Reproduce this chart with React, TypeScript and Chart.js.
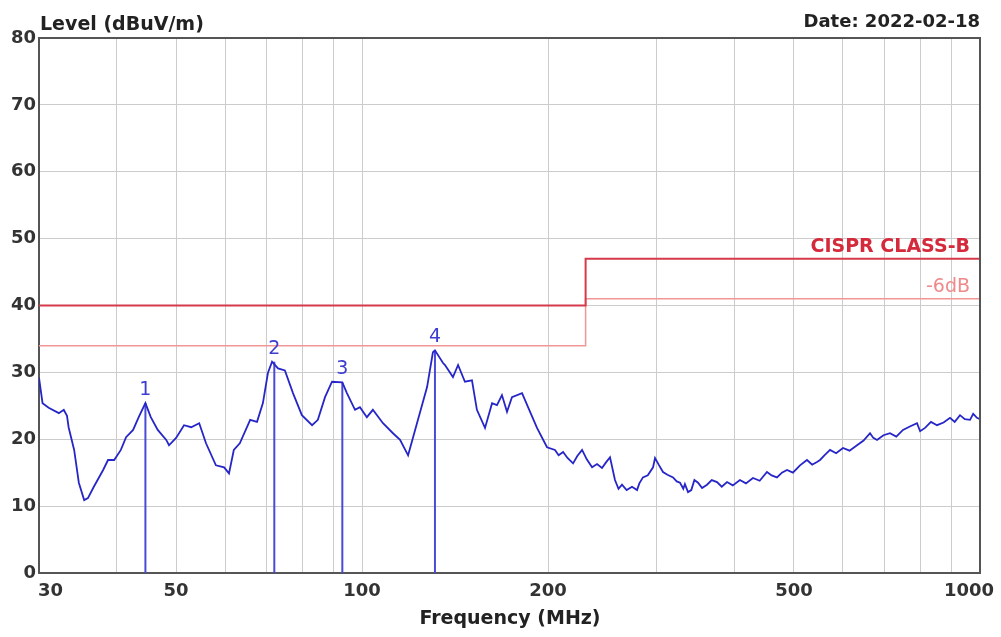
import React, { useEffect, useRef } from "react";
import { Chart, registerables } from "chart.js";

Chart.register(...registerables);

const FONT = "'DejaVu Sans', 'Liberation Sans', sans-serif";

// Measured trace (frequency in MHz, level in dBuV/m)
const freqMHz = [
  30.0, 30.4, 31.1, 32.3, 32.9, 33.3, 33.5, 34.2, 34.8, 35.5,
  36.0, 36.8, 38.1, 38.8, 39.7, 40.7, 41.5, 42.6, 43.5, 44.6,
  45.5, 46.7, 48.2, 48.7, 50.0, 51.5, 52.9, 54.5, 55.9, 58.0,
  59.8, 60.9, 62.0, 63.4, 65.9, 67.6, 69.1, 70.4, 71.5, 73.1,
  75.0, 77.3, 79.9, 83.0, 84.8, 87.1, 89.4, 92.9, 94.5, 97.4,
  99.2, 101.8, 104.1, 108.1, 112.2, 115.2, 118.7, 122.7, 127.4, 130.2,
  131.2, 135.2, 136.2, 140.3, 143.0, 146.7, 150.6, 153.4, 158.1, 162.3,
  165.3, 168.4, 171.6, 174.8, 181.5, 185.6, 191.9, 199.2, 205.2, 208,
  211.5, 215, 219.5, 223, 227, 231, 235.6, 240, 244.5, 248,
  251.9, 256.6, 260, 263.4, 268, 273.4, 278.6, 281, 284.8, 290,
  295.7, 297.9, 302, 306.9, 312, 318.6, 323, 327, 331, 333,
  336.9, 341, 345, 349.7, 355, 361.6, 368, 375.3, 382, 389.6,
  398, 408.8, 418, 429.1, 440, 452.1, 460, 469.3, 478, 487.1,
  498, 511.3, 524.8, 535, 544.7, 551, 560, 571.9, 585, 600.2,
  615, 632.4, 648, 663.8, 672, 681.3, 698, 715.1, 732, 750.6,
  770, 790.8, 800, 814.8, 833, 852, 873, 894.3, 910, 928.2,
  945, 963.5, 975, 988.8, 1000,
];
const levelDb = [
  29.2, 25.4, 24.7, 23.9, 24.4, 23.5, 21.8, 18.4, 13.5, 10.9,
  11.2, 12.9, 15.4, 16.9, 16.9, 18.4, 20.3, 21.4, 23.3, 25.4,
  23.3, 21.4, 19.9, 19.1, 20.2, 22.1, 21.8, 22.4, 19.4, 16.1,
  15.8, 14.9, 18.4, 19.4, 22.9, 22.6, 25.4, 29.9, 31.6, 30.6,
  30.3, 26.9, 23.6, 22.1, 22.9, 26.3, 28.6, 28.5, 26.9, 24.4,
  24.8, 23.3, 24.4, 22.4, 20.9, 19.9, 17.6, 22.4, 27.8, 33.0,
  33.3, 31.4, 31.1, 29.3, 31.1, 28.6, 28.8, 24.4, 21.7, 25.4,
  25.1, 26.6, 24.1, 26.3, 26.9, 24.8, 21.7, 18.8, 18.4, 17.6,
  18.1, 17.2, 16.4, 17.5, 18.4, 17.0, 15.8, 16.3, 15.7, 16.5,
  17.3, 13.9, 12.6, 13.2, 12.4, 12.9, 12.4, 13.4, 14.3, 14.6,
  15.8, 17.2, 16.2, 15.1, 14.7, 14.3, 13.7, 13.5, 12.6, 13.3,
  12.1, 12.4, 13.9, 13.5, 12.7, 13.2, 13.9, 13.6, 12.9, 13.6,
  13.1, 13.9, 13.4, 14.2, 13.8, 15.1, 14.6, 14.3, 15.0, 15.4,
  15.0, 16.1, 16.9, 16.2, 16.6, 16.9, 17.6, 18.4, 17.9, 18.7,
  18.3, 19.1, 19.8, 20.9, 20.2, 19.9, 20.6, 20.9, 20.4, 21.4,
  21.9, 22.4, 21.2, 21.7, 22.6, 22.1, 22.5, 23.2, 22.6, 23.6,
  23.0, 22.9, 23.8, 23.2, 23.0,
];

// Limit lines
const limitFreq = [30, 230, 230, 1000];
const limitClassB = [40, 40, 47, 47];
const limitMinus6 = [34, 34, 41, 41];
const limitNames = ["CISPR CLASS-B", "-6dB"];

// Markers
const markerIds = ["1", "2", "3", "4"];
const markerFreq = [44.6, 72.1, 92.9, 131.2];
const markerLevel = [25.4, 31.6, 28.5, 33.3];

// Axis ticks
const xGridValues = [30, 40, 50, 60, 70, 80, 90, 100, 200, 300, 400, 500, 600, 700, 800, 900, 1000];
const xLabelValues = [30, 50, 100, 200, 500, 1000];
const yMin = 0;
const yMax = 80;
const yStep = 10;

const yTitle = "Level (dBuV/m)";
const xTitle = "Frequency (MHz)";
const dateText = "Date: 2022-02-18";

export default function App() {
  const ref = useRef<HTMLCanvasElement | null>(null);

  useEffect(() => {
    const canvas = ref.current;
    if (!canvas) return;

    const overlay = {
      id: "overlay",
      afterDraw(chart: any) {
        const ctx = chart.ctx;
        const a = chart.chartArea;
        const xs = chart.scales.x;
        const ys = chart.scales.y;
        ctx.save();
        // frame top/right
        ctx.strokeStyle = "#555";
        ctx.lineWidth = 2;
        ctx.beginPath();
        ctx.moveTo(a.left, a.top);
        ctx.lineTo(a.right, a.top);
        ctx.lineTo(a.right, a.bottom);
        ctx.stroke();

        // titles
        ctx.fillStyle = "#222";
        ctx.font = `bold 19px ${FONT}`;
        ctx.textBaseline = "alphabetic";
        ctx.textAlign = "left";
        ctx.fillText(yTitle, 40, 30);
        ctx.textAlign = "right";
        ctx.font = `bold 18px ${FONT}`;
        ctx.fillText(dateText, a.right, 27);
        ctx.textAlign = "center";
        ctx.font = `bold 19px ${FONT}`;
        ctx.fillText(xTitle, 510, 624);

        // x tick labels
        ctx.font = `bold 18px ${FONT}`;
        ctx.fillStyle = "#333";
        ctx.textBaseline = "top";
        xLabelValues.forEach((v, i) => {
          const px = xs.getPixelForValue(v);
          if (i === 0) {
            ctx.textAlign = "left";
            ctx.fillText(String(v), px - 1, a.bottom + 9);
          } else if (i === xLabelValues.length - 1) {
            ctx.textAlign = "right";
            ctx.fillText(String(v), px + 14, a.bottom + 9);
          } else {
            ctx.textAlign = "center";
            ctx.fillText(String(v), px, a.bottom + 9);
          }
        });

        // limit labels
        ctx.textAlign = "right";
        ctx.textBaseline = "alphabetic";
        ctx.font = `bold 19px ${FONT}`;
        ctx.fillStyle = "#d42a3c";
        ctx.fillText(limitNames[0], a.right - 10, ys.getPixelForValue(limitClassB[3]) - 7);
        ctx.font = `19px ${FONT}`;
        ctx.fillStyle = "#f08a8a";
        ctx.fillText(limitNames[1], a.right - 10, ys.getPixelForValue(limitMinus6[3]) - 7);

        // marker labels
        ctx.font = `19px ${FONT}`;
        ctx.fillStyle = "#3c3cd0";
        ctx.textAlign = "center";
        ctx.textBaseline = "alphabetic";
        markerIds.forEach((id, i) => {
          const px = xs.getPixelForValue(markerFreq[i]);
          const py = ys.getPixelForValue(markerLevel[i]);
          ctx.fillText(id, px, py - 8);
        });
        ctx.restore();
      },
    };

    const markerSets = markerIds.map((id, i) => ({
      label: "Marker " + id,
      data: [
        { x: markerFreq[i], y: 0 },
        { x: markerFreq[i], y: markerLevel[i] },
      ],
      borderColor: "#4a4ad8",
      borderWidth: 2,
      pointRadius: 0,
    }));

    const chart = new Chart(canvas, {
      type: "line",
      data: {
        datasets: [
          {
            label: "Level",
            data: freqMHz.map((f, i) => ({ x: f, y: levelDb[i] })),
            borderColor: "#2626c8",
            borderWidth: 1.8,
            pointRadius: 0,
            tension: 0,
          },
          ...markerSets,
          {
            label: limitNames[0],
            data: limitFreq.map((f, i) => ({ x: f, y: limitClassB[i] })),
            borderColor: "#d63a4a",
            borderWidth: 2,
            pointRadius: 0,
          },
          {
            label: limitNames[1],
            data: limitFreq.map((f, i) => ({ x: f, y: limitMinus6[i] })),
            borderColor: "#f29595",
            borderWidth: 1.5,
            pointRadius: 0,
          },
        ],
      },
      options: {
        animation: false,
        responsive: true,
        maintainAspectRatio: false,
        layout: { padding: { top: 38, right: 21, left: 0, bottom: 0 } },
        plugins: {
          legend: { display: false },
          tooltip: { enabled: false },
        },
        scales: {
          x: {
            type: "logarithmic",
            min: 30,
            max: 1000,
            afterBuildTicks: (s: any) => {
              s.ticks = xGridValues.map((v) => ({ value: v }));
            },
            afterFit: (s: any) => {
              s.height = 64;
            },
            ticks: { display: false, autoSkip: false },
            grid: { color: "#cccccc", lineWidth: 1, drawTicks: false },
            border: { color: "#555", width: 2 },
          },
          y: {
            type: "linear",
            min: yMin,
            max: yMax,
            afterFit: (s: any) => {
              s.width = 39;
            },
            ticks: {
              stepSize: yStep,
              padding: 3,
              color: "#333",
              font: { family: FONT, size: 18, weight: "bold" },
            },
            grid: { color: "#cccccc", lineWidth: 1, drawTicks: false },
            border: { color: "#555", width: 2 },
          },
        },
      },
      plugins: [overlay],
    } as any);

    return () => chart.destroy();
  }, []);

  return (
    <div
      style={{
        position: "fixed",
        left: 0,
        top: 0,
        width: 1001,
        height: 637,
        background: "#fff",
      }}
    >
      <canvas ref={ref} />
    </div>
  );
}
